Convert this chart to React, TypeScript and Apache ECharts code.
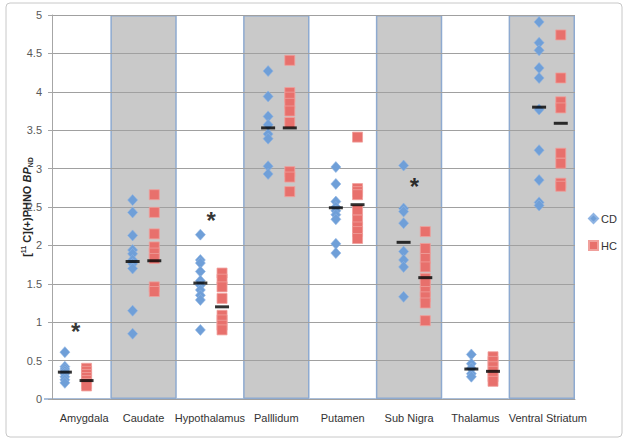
import React, { useEffect, useRef } from "react";
import * as echarts from "echarts";

const categories = ["Amygdala", "Caudate", "Hypothalamus", "Palllidum", "Putamen", "Sub Nigra", "Thalamus", "Ventral Striatum"];

const cdValues: number[][] = [
  [0.61, 0.42, 0.39, 0.36, 0.33, 0.29, 0.25, 0.21],
  [2.59, 2.43, 2.13, 1.94, 1.89, 1.81, 1.76, 1.7, 1.15, 0.85],
  [2.14, 1.81, 1.77, 1.66, 1.54, 1.48, 1.42, 1.35, 1.29, 0.9],
  [4.27, 3.94, 3.68, 3.57, 3.45, 3.39, 3.03, 2.93],
  [3.02, 2.8, 2.57, 2.5, 2.45, 2.4, 2.34, 2.02, 1.9],
  [3.04, 2.48, 2.44, 2.29, 1.92, 1.81, 1.72, 1.33],
  [0.58, 0.46, 0.4, 0.33, 0.29],
  [4.91, 4.64, 4.54, 4.31, 4.18, 3.77, 3.24, 2.85, 2.56, 2.52],
];

const hcValues: number[][] = [
  [0.4, 0.36, 0.32, 0.28, 0.24, 0.2, 0.17],
  [2.66, 2.43, 2.15, 1.98, 1.9, 1.83, 1.46, 1.4],
  [1.64, 1.56, 1.46, 1.31, 1.09, 1.03, 0.96, 0.9],
  [4.41, 3.99, 3.93, 3.85, 3.75, 3.6, 2.96, 2.89, 2.7],
  [3.41, 2.74, 2.7, 2.66, 2.46, 2.33, 2.24, 2.18, 2.09],
  [2.18, 1.96, 1.83, 1.72, 1.57, 1.51, 1.4, 1.33, 1.25, 1.02],
  [0.55, 0.49, 0.42, 0.36, 0.29, 0.23],
  [4.74, 4.18, 3.87, 3.79, 3.2, 3.07, 2.81, 2.77],
];

const cdMeans = [0.35, 1.79, 1.51, 3.53, 2.49, 2.04, 0.39, 3.8];
const hcMeans = [0.24, 1.8, 1.2, 3.53, 2.53, 1.58, 0.36, 3.59];

const shadedBands = [0, 1, 0, 1, 0, 1, 0, 1];

const significantRegions = ["Amygdala", "Hypothalamus", "Sub Nigra"];
const asteriskHeights = [0.88, 2.33, 2.77];

const yMin = 0;
const yMax = 5;
const yStep = 0.5;

const groupOffset = 0.16;

// extra left padding (px) per category label, to nudge labels like the reference
const labelNudge: Record<string, number> = { Amygdala: 14, "Ventral Striatum": 12 };

export default function App() {
  const ref = useRef<HTMLDivElement>(null);

  useEffect(() => {
    if (!ref.current) return;
    const chart = echarts.init(ref.current, undefined, { renderer: "svg" });
    const font = "Liberation Sans";

    const cdData: number[][] = [];
    const hcData: number[][] = [];
    cdValues.forEach((vals, i) => vals.forEach((v) => cdData.push([i + 1 - groupOffset, v])));
    hcValues.forEach((vals, i) => vals.forEach((v) => hcData.push([i + 1 + groupOffset, v])));
    const meanData: number[][] = [];
    cdMeans.forEach((v, i) => meanData.push([i + 1 - groupOffset, v]));
    hcMeans.forEach((v, i) => meanData.push([i + 1 + groupOffset, v]));
    const starData = significantRegions.map((r, k) => [categories.indexOf(r) + 1, asteriskHeights[k]]);

    chart.setOption({
      animation: false,
      backgroundColor: "#ffffff",
      textStyle: { fontFamily: font },
      graphic: [
        {
          type: "rect",
          shape: { x: 6, y: 3, width: 616, height: 434, r: 4 },
          style: { fill: "none", stroke: "#c8c8c8", lineWidth: 1 },
          silent: true,
          z: -10,
        },
      ],
      legend: {
        orient: "vertical",
        left: 583,
        top: 208,
        itemWidth: 9,
        itemHeight: 9,
        itemGap: 16,
        textStyle: { fontSize: 11, color: "#333333", fontFamily: font, padding: [0, 0, 0, -2] },
        data: [
          { name: "CD", icon: "diamond" },
          { name: "HC", icon: "rect" },
        ],
      },
      grid: [
        { left: 44, right: 54, top: 15, bottom: 48 },
        { left: 52, right: 54, top: 15, bottom: 48 },
      ],
      xAxis: [
        {
          type: "category",
          gridIndex: 0,
          data: categories.map((c) =>
            labelNudge[c] ? { value: c, textStyle: { padding: [0, 0, 0, labelNudge[c]] } } : c
          ),
          boundaryGap: true,
          axisLine: { show: false },
          axisTick: { show: false },
          axisLabel: { fontSize: 11, color: "#333333", margin: 13, fontFamily: font, interval: 0 },
        },
        {
          type: "value",
          gridIndex: 1,
          min: 0.65,
          max: 8.37,
          axisLine: { show: true, onZero: false, lineStyle: { color: "#a6a6a6", width: 1 } },
          axisTick: { show: false },
          axisLabel: { show: false },
          splitLine: { show: false },
        },
      ],
      yAxis: [
        {
          type: "value",
          gridIndex: 0,
          min: yMin,
          max: yMax,
          show: false,
          splitLine: { show: false },
        },
        {
          type: "value",
          gridIndex: 1,
          min: yMin,
          max: yMax,
          interval: yStep,
          z: 3,
          axisLine: { show: true, lineStyle: { color: "#a6a6a6" } },
          axisTick: { show: true, length: 4, lineStyle: { color: "#a6a6a6" } },
          axisLabel: { fontSize: 11, color: "#595959", margin: 10, fontFamily: font },
          splitLine: { show: true, lineStyle: { color: "#a0a0a0", width: 1 } },
          name: "{b|[}{sup|11}{b| C](+)PHNO }{bi|BP}{sub|ND}",
          nameLocation: "middle",
          nameGap: 18,
          nameMoveOverlap: false,
          nameRotate: 90,
          nameTextStyle: {
            rich: {
              b: { fontSize: 11, fontWeight: "bold", color: "#262626", fontFamily: font, lineHeight: 14 },
              bi: { fontSize: 11, fontWeight: "bold", fontStyle: "italic", color: "#262626", fontFamily: font, lineHeight: 14 },
              sup: { fontSize: 7, fontWeight: "bold", color: "#262626", fontFamily: font, verticalAlign: "top", lineHeight: 14 },
              sub: { fontSize: 7, fontWeight: "bold", color: "#262626", fontFamily: font, verticalAlign: "bottom", lineHeight: 14 },
            },
          },
        },
      ],
      series: [
        {
          name: "bands",
          type: "bar",
          xAxisIndex: 0,
          yAxisIndex: 0,
          z: 1,
          silent: true,
          barWidth: "100%",
          data: shadedBands.map((s) => (s ? yMax : 0)),
          itemStyle: { color: "#c9c9c9", borderColor: "#8eaad0", borderWidth: 1.5 },
        },
        {
          name: "CD",
          type: "scatter",
          xAxisIndex: 1,
          yAxisIndex: 1,
          z: 4,
          symbol: "diamond",
          symbolSize: [10, 11],
          data: cdData,
          itemStyle: { color: "#6f9fd8", opacity: 1, borderColor: "#8fb4e3", borderWidth: 0.6 },
        },
        {
          name: "HC",
          type: "scatter",
          xAxisIndex: 1,
          yAxisIndex: 1,
          z: 4,
          symbol: "rect",
          symbolSize: [10, 10],
          data: hcData,
          itemStyle: { color: "#e8706c", opacity: 1, borderColor: "#f0a09c", borderWidth: 0.8 },
        },
        {
          name: "means",
          type: "scatter",
          xAxisIndex: 1,
          yAxisIndex: 1,
          z: 5,
          symbol: "rect",
          symbolSize: [14, 3],
          data: meanData,
          itemStyle: { color: "#000000" },
        },
        {
          name: "stars",
          type: "scatter",
          xAxisIndex: 1,
          yAxisIndex: 1,
          z: 6,
          symbolSize: 1,
          itemStyle: { color: "rgba(0,0,0,0)" },
          data: starData,
          label: {
            show: true,
            position: "inside",
            formatter: "*",
            fontSize: 24,
            fontWeight: "bold",
            color: "#000000",
            fontFamily: font,
          },
        },
      ],
    });
    return () => chart.dispose();
  }, []);

  return (
    <div
      ref={ref}
      style={{ position: "absolute", left: 0, top: 0, width: 629, height: 447 }}
    />
  );
}
